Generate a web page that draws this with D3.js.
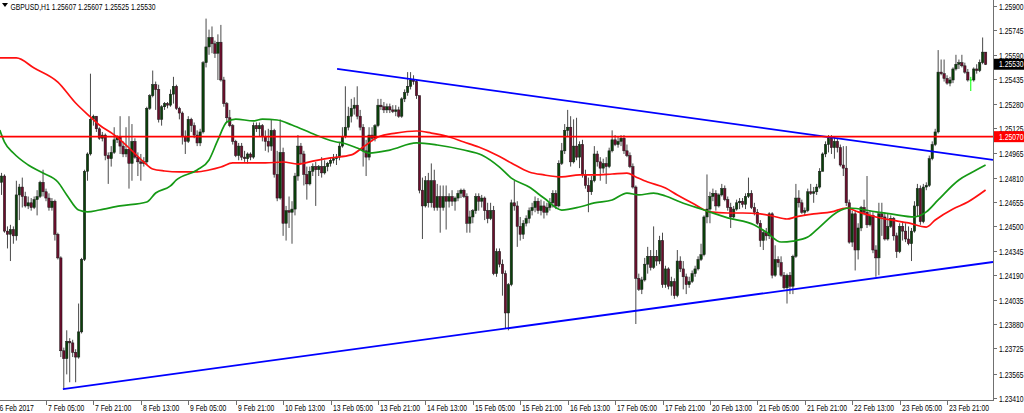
<!DOCTYPE html>
<html><head><meta charset="utf-8">
<script src="https://cdn.jsdelivr.net/npm/d3@7"></script>
<style>html,body{margin:0;padding:0;background:#fff;overflow:hidden}svg{display:block}</style>
</head><body>
<svg id="c" width="1024" height="413"></svg>
<script>
// ---------- DATA ----------
const symbolTitle = "GBPUSD,H1  1.25607 1.25607 1.25525 1.25530";

const opens = [
1.2478,1.2482,1.2447,1.2445,1.2448,1.2444,1.2470,1.2475,1.2469,1.2463,
1.2465,1.2462,1.2467,1.2469,1.2478,1.2472,1.2468,1.2462,1.2466,1.2445,
1.2430,1.2371,1.2366,1.2377,1.2376,1.2370,1.2367,1.2383,1.2429,1.2485,
1.2496,1.2518,1.2520,1.2512,1.2506,1.2508,1.2495,1.2493,1.2497,1.2505,
1.2507,1.2501,1.2496,1.2499,1.2490,1.2504,1.2494,1.2491,1.2490,1.2491,
1.2525,1.2533,1.2540,1.2537,1.2518,1.2526,1.2528,1.2527,1.2534,1.2539,
1.2525,1.2522,1.2507,1.2504,1.2518,1.2514,1.2508,1.2503,1.2510,1.2554,
1.2564,1.2570,1.2566,1.2560,1.2567,1.2543,1.2528,1.2519,1.2514,1.2504,
1.2495,1.2501,1.2494,1.2493,1.2496,1.2494,1.2514,1.2512,1.2514,1.2507,
1.2504,1.2501,1.2511,1.2483,1.2468,1.2497,1.2452,1.2460,1.2459,1.2461,
1.2482,1.2501,1.2496,1.2483,1.2477,1.2485,1.2488,1.2486,1.2488,1.2484,
1.2488,1.2490,1.2492,1.2493,1.2494,1.2501,1.2507,1.2513,1.2520,1.2525,
1.2527,1.2520,1.2513,1.2498,1.2494,1.2508,1.2506,1.2514,1.2527,1.2526,
1.2524,1.2526,1.2524,1.2523,1.2524,1.2520,1.2531,1.2535,1.2539,1.2543,
1.2542,1.2533,1.2473,1.2463,1.2479,1.2465,1.2479,1.2462,1.2469,1.2462,
1.2469,1.2466,1.2469,1.2466,1.2468,1.2471,1.2473,1.2469,1.2452,1.2456,
1.2460,1.2469,1.2466,1.2468,1.2460,1.2455,1.2460,1.2420,1.2434,1.2426,
1.2420,1.2395,1.2413,1.2465,1.2463,1.2450,1.2445,1.2452,1.2455,1.2460,
1.2462,1.2466,1.2460,1.2463,1.2459,1.2462,1.2465,1.2471,1.2463,1.2490,
1.2498,1.2511,1.2513,1.2491,1.2501,1.2494,1.2502,1.2483,1.2476,1.2472,
1.2479,1.2496,1.2491,1.2487,1.2490,1.2488,1.2498,1.2505,1.2502,1.2504,
1.2506,1.2498,1.2495,1.2488,1.2475,1.2417,1.2410,1.2416,1.2426,1.2431,
1.2424,1.2431,1.2428,1.2441,1.2413,1.2423,1.2412,1.2415,1.2406,1.2428,
1.2423,1.2418,1.2413,1.2415,1.2420,1.2423,1.2429,1.2432,1.2456,1.2461,
1.2469,1.2471,1.2463,1.2470,1.2474,1.2467,1.2462,1.2456,1.2461,1.2465,
1.2466,1.2464,1.2469,1.2471,1.2462,1.2459,1.2452,1.2441,1.2446,1.2444,
1.2458,1.2419,1.2429,1.2427,1.2419,1.2411,1.2419,1.2412,1.2431,1.2468,
1.2465,1.2459,1.2460,1.2472,1.2471,1.2472,1.2475,1.2485,1.2496,1.2502,
1.2506,1.2500,1.2504,1.2500,1.2489,1.2487,1.2465,1.2440,1.2458,1.2435,
1.2449,1.2462,1.2459,1.2451,1.2457,1.2435,1.2430,1.2458,1.2456,1.2442,
1.2450,1.2455,1.2444,1.2434,1.2450,1.2447,1.2442,1.2439,1.2447,1.2463,
1.2474,1.2453,1.2475,1.2476,1.2493,1.2502,1.2510,1.2548,1.2547,1.2544,
1.2541,1.2543,1.2550,1.2553,1.2554,1.2552,1.2548,1.2543,1.2543,1.2550,
1.2549,1.2554,1.25607];

const highs = [
1.2484,1.2483,1.2450,1.2451,1.2450,1.2479,1.2477,1.2481,1.2472,1.2469,
1.2468,1.2469,1.2473,1.2479,1.2486,1.2474,1.2471,1.2468,1.2467,1.2446,
1.2431,1.2373,1.2384,1.2379,1.2378,1.2372,1.2401,1.2430,1.2486,1.2497,
1.2547,1.2521,1.2520,1.2513,1.2510,1.2509,1.2497,1.2501,1.2513,1.2508,
1.2520,1.2504,1.2513,1.2520,1.2515,1.2506,1.2497,1.2496,1.2494,1.2526,
1.2534,1.2549,1.2542,1.2540,1.2527,1.2529,1.2529,1.2537,1.2545,1.2540,
1.2526,1.2523,1.2511,1.2520,1.2519,1.2516,1.2511,1.2512,1.2555,1.2582,
1.2575,1.2577,1.2568,1.2572,1.2578,1.2545,1.2529,1.2524,1.2515,1.2505,
1.2503,1.2503,1.2498,1.2497,1.2497,1.2516,1.2516,1.2516,1.2515,1.2511,
1.2512,1.2518,1.2512,1.2498,1.2518,1.2500,1.2463,1.2469,1.2466,1.2484,
1.2508,1.2503,1.2498,1.2488,1.2488,1.2490,1.2491,1.2489,1.2494,1.2492,
1.2491,1.2494,1.2496,1.2496,1.2503,1.2513,1.2539,1.2526,1.2531,1.2532,
1.2539,1.2524,1.2515,1.2505,1.2513,1.2513,1.2515,1.2531,1.2531,1.2529,
1.2528,1.2528,1.2527,1.2527,1.2526,1.2532,1.2537,1.2548,1.2548,1.2546,
1.2543,1.2533,1.2481,1.2482,1.2484,1.2490,1.2486,1.2477,1.2476,1.2476,
1.2476,1.2471,1.2473,1.2469,1.2473,1.2474,1.2474,1.2471,1.2460,1.2461,
1.2471,1.2471,1.2470,1.2469,1.2465,1.2465,1.2463,1.2436,1.2436,1.2429,
1.2422,1.2414,1.2467,1.2479,1.2466,1.2456,1.2454,1.2457,1.2462,1.2465,
1.2469,1.2468,1.2467,1.2466,1.2465,1.2468,1.2473,1.2473,1.2492,1.2503,
1.2515,1.2524,1.2520,1.2518,1.2519,1.2504,1.2505,1.2486,1.2481,1.2482,
1.2501,1.2498,1.2494,1.2493,1.2494,1.2500,1.2511,1.2508,1.2507,1.2508,
1.2508,1.2502,1.2497,1.2490,1.2476,1.2420,1.2418,1.2430,1.2437,1.2435,
1.2450,1.2435,1.2444,1.2446,1.2425,1.2424,1.2418,1.2417,1.2435,1.2431,
1.2428,1.2420,1.2418,1.2422,1.2425,1.2431,1.2439,1.2457,1.2483,1.2472,
1.2474,1.2473,1.2471,1.2477,1.2476,1.2469,1.2465,1.2463,1.2467,1.2468,
1.2468,1.2471,1.2481,1.2473,1.2465,1.2461,1.2454,1.2448,1.2449,1.2459,
1.2459,1.2438,1.2431,1.2431,1.2421,1.2420,1.2421,1.2432,1.2477,1.2473,
1.2467,1.2462,1.2474,1.2477,1.2475,1.2477,1.2487,1.2497,1.2504,1.2508,
1.2508,1.2507,1.2506,1.2502,1.2501,1.2501,1.2467,1.2460,1.2460,1.2452,
1.2463,1.2467,1.2482,1.2460,1.2459,1.2438,1.2465,1.2465,1.2459,1.2458,
1.2457,1.2456,1.2446,1.2452,1.2453,1.2452,1.2450,1.2449,1.2466,1.2477,
1.2476,1.2477,1.2478,1.2495,1.2504,1.2512,1.2562,1.2556,1.2556,1.2546,
1.2545,1.2551,1.2559,1.2556,1.2559,1.2554,1.2550,1.2545,1.2551,1.2553,
1.2556,1.2570,1.25607];

const lows = [
1.2470,1.2446,1.2436,1.2428,1.2439,1.2441,1.2454,1.2462,1.2462,1.2461,
1.2460,1.2461,1.2457,1.2468,1.2469,1.2466,1.2460,1.2460,1.2441,1.2429,
1.2367,1.2347,1.2356,1.2351,1.2367,1.2351,1.2366,1.2382,1.2428,1.2479,
1.2495,1.2514,1.2510,1.2505,1.2504,1.2492,1.2477,1.2488,1.2496,1.2503,
1.2496,1.2494,1.2494,1.2474,1.2479,1.2493,1.2482,1.2479,1.2488,1.2489,
1.2524,1.2532,1.2524,1.2516,1.2514,1.2524,1.2525,1.2526,1.2528,1.2524,
1.2518,1.2502,1.2496,1.2503,1.2510,1.2506,1.2501,1.2501,1.2509,1.2551,
1.2559,1.2560,1.2557,1.2543,1.2542,1.2526,1.2516,1.2513,1.2502,1.2494,
1.2492,1.2492,1.2491,1.2490,1.2492,1.2493,1.2510,1.2507,1.2504,1.2498,
1.2497,1.2498,1.2481,1.2466,1.2467,1.2444,1.2441,1.2449,1.2439,1.2457,
1.2479,1.2490,1.2476,1.2467,1.2476,1.2482,1.2463,1.2482,1.2481,1.2483,
1.2485,1.2488,1.2490,1.2489,1.2492,1.2500,1.2506,1.2511,1.2516,1.2521,
1.2518,1.2511,1.2488,1.2482,1.2492,1.2504,1.2504,1.2513,1.2524,1.2522,
1.2522,1.2522,1.2522,1.2520,1.2519,1.2519,1.2529,1.2533,1.2537,1.2540,
1.2531,1.2471,1.2442,1.2462,1.2462,1.2462,1.2460,1.2460,1.2446,1.2460,
1.2448,1.2462,1.2463,1.2460,1.2466,1.2468,1.2468,1.2446,1.2446,1.2452,
1.2458,1.2460,1.2462,1.2454,1.2452,1.2454,1.2419,1.2418,1.2424,1.2406,
1.2385,1.2384,1.2412,1.2460,1.2437,1.2441,1.2442,1.2450,1.2452,1.2457,
1.2459,1.2458,1.2457,1.2455,1.2457,1.2460,1.2462,1.2461,1.2462,1.2489,
1.2496,1.2507,1.2488,1.2490,1.2492,1.2487,1.2481,1.2474,1.2459,1.2470,
1.2478,1.2488,1.2479,1.2484,1.2477,1.2487,1.2497,1.2501,1.2500,1.2501,
1.2496,1.2494,1.2487,1.2474,1.2388,1.2409,1.2407,1.2415,1.2420,1.2422,
1.2423,1.2425,1.2426,1.2411,1.2411,1.2410,1.2406,1.2404,1.2405,1.2421,
1.2410,1.2407,1.2411,1.2414,1.2418,1.2422,1.2428,1.2431,1.2452,1.2452,
1.2466,1.2460,1.2462,1.2469,1.2466,1.2460,1.2449,1.2455,1.2460,1.2461,
1.2462,1.2461,1.2468,1.2461,1.2457,1.2451,1.2437,1.2435,1.2441,1.2442,
1.2417,1.2418,1.2424,1.2418,1.2410,1.2401,1.2407,1.2407,1.2430,1.2462,
1.2458,1.2457,1.2459,1.2470,1.2465,1.2470,1.2474,1.2485,1.2494,1.2497,
1.2496,1.2493,1.2497,1.2488,1.2482,1.2463,1.2439,1.2437,1.2422,1.2429,
1.2447,1.2457,1.2449,1.2450,1.2433,1.2418,1.2419,1.2444,1.2441,1.2441,
1.2449,1.2441,1.2430,1.2433,1.2441,1.2440,1.2438,1.2428,1.2446,1.2456,
1.2451,1.2452,1.2473,1.2475,1.2492,1.2501,1.2509,1.2546,1.2542,1.2540,
1.2539,1.2541,1.2549,1.2550,1.2551,1.2547,1.2542,1.2536,1.2542,1.2547,
1.2548,1.2553,1.25525];

const closes = [
1.2482,1.2447,1.2445,1.2448,1.2444,1.2470,1.2475,1.2469,1.2463,1.2465,
1.2462,1.2467,1.2469,1.2478,1.2472,1.2468,1.2462,1.2466,1.2445,1.2430,
1.2371,1.2366,1.2377,1.2376,1.2370,1.2367,1.2383,1.2429,1.2485,1.2496,
1.2518,1.2520,1.2512,1.2506,1.2508,1.2495,1.2493,1.2497,1.2505,1.2507,
1.2501,1.2496,1.2499,1.2490,1.2504,1.2494,1.2491,1.2490,1.2491,1.2525,
1.2533,1.2540,1.2537,1.2518,1.2526,1.2528,1.2527,1.2534,1.2539,1.2525,
1.2522,1.2507,1.2504,1.2518,1.2514,1.2508,1.2503,1.2510,1.2554,1.2564,
1.2570,1.2566,1.2560,1.2567,1.2543,1.2528,1.2519,1.2514,1.2504,1.2495,
1.2501,1.2494,1.2493,1.2496,1.2494,1.2514,1.2512,1.2514,1.2507,1.2504,
1.2501,1.2511,1.2483,1.2468,1.2497,1.2452,1.2460,1.2459,1.2461,1.2482,
1.2501,1.2496,1.2483,1.2477,1.2485,1.2488,1.2486,1.2488,1.2484,1.2488,
1.2490,1.2492,1.2493,1.2494,1.2501,1.2507,1.2513,1.2520,1.2525,1.2527,
1.2520,1.2513,1.2498,1.2494,1.2508,1.2506,1.2514,1.2527,1.2526,1.2524,
1.2526,1.2524,1.2523,1.2524,1.2520,1.2531,1.2535,1.2539,1.2543,1.2542,
1.2533,1.2473,1.2463,1.2479,1.2465,1.2479,1.2462,1.2469,1.2462,1.2469,
1.2466,1.2469,1.2466,1.2468,1.2471,1.2473,1.2469,1.2452,1.2456,1.2460,
1.2469,1.2466,1.2468,1.2460,1.2455,1.2460,1.2420,1.2434,1.2426,1.2420,
1.2395,1.2413,1.2465,1.2463,1.2450,1.2445,1.2452,1.2455,1.2460,1.2462,
1.2466,1.2460,1.2463,1.2459,1.2462,1.2465,1.2471,1.2463,1.2490,1.2498,
1.2511,1.2513,1.2491,1.2501,1.2494,1.2502,1.2483,1.2476,1.2472,1.2479,
1.2496,1.2491,1.2487,1.2490,1.2488,1.2498,1.2505,1.2502,1.2504,1.2506,
1.2498,1.2495,1.2488,1.2475,1.2417,1.2410,1.2416,1.2426,1.2431,1.2424,
1.2431,1.2428,1.2441,1.2413,1.2423,1.2412,1.2415,1.2406,1.2428,1.2423,
1.2418,1.2413,1.2415,1.2420,1.2423,1.2429,1.2432,1.2456,1.2461,1.2469,
1.2471,1.2463,1.2470,1.2474,1.2467,1.2462,1.2456,1.2461,1.2465,1.2466,
1.2464,1.2469,1.2471,1.2462,1.2459,1.2452,1.2441,1.2446,1.2444,1.2458,
1.2419,1.2429,1.2427,1.2419,1.2411,1.2419,1.2412,1.2431,1.2468,1.2465,
1.2459,1.2460,1.2472,1.2471,1.2472,1.2475,1.2485,1.2496,1.2502,1.2506,
1.2500,1.2504,1.2500,1.2489,1.2487,1.2465,1.2440,1.2458,1.2435,1.2449,
1.2462,1.2459,1.2451,1.2457,1.2435,1.2430,1.2458,1.2456,1.2442,1.2450,
1.2455,1.2444,1.2434,1.2450,1.2447,1.2442,1.2439,1.2447,1.2463,1.2474,
1.2453,1.2475,1.2476,1.2493,1.2502,1.2510,1.2548,1.2547,1.2544,1.2541,
1.2543,1.2550,1.2553,1.2554,1.2552,1.2548,1.2543,1.2543,1.2550,1.2549,
1.2554,1.25607,1.25530];

// moving average readings (bar index, price)
const redMaIdx = [-0.6,5,11,19,25,30,33,38,42,48,51,55,60,66,70,74,78,83,89,95,100,105,111,118,122,127,133,140,145,150,156,161,167,172,178,183,189,195,200,206,211,214,218,224,228,233,239,245,250,256,260,265,268,274,280,285,289,295,300,306,312,315,321,326,332];
const redMaVal = [1.2557,1.2557,1.25506,1.25417,1.25284,1.25195,1.25144,1.25081,1.25017,1.24909,1.24865,1.24852,1.24846,1.24846,1.24858,1.24877,1.24903,1.24903,1.24903,1.24909,1.24896,1.24915,1.24935,1.24954,1.25004,1.25068,1.25093,1.25106,1.25093,1.25074,1.25036,1.25004,1.24954,1.24903,1.24846,1.24827,1.24814,1.24827,1.24827,1.24833,1.24839,1.24814,1.24782,1.24744,1.24700,1.24649,1.24592,1.24585,1.24585,1.24579,1.24566,1.24547,1.24560,1.24579,1.24592,1.24617,1.24592,1.24560,1.24541,1.24522,1.24496,1.24541,1.24611,1.24655,1.24731];
const greenMaIdx = [-0.6,1,4,9,14,19,22,26,29,33,40,49,52,57,59,66,70,73,76,79,85,88,93,98,106,113,115,120,124,131,140,147,156,162,168,172,178,183,189,195,200,206,211,215,220,224,229,237,245,254,258,263,267,272,276,282,286,295,300,308,312,316,323,327,332];
const greenMaVal = [1.25112,1.25036,1.24966,1.24890,1.24839,1.24782,1.24700,1.24604,1.24592,1.24604,1.24630,1.24655,1.24712,1.24757,1.24795,1.24858,1.24922,1.25049,1.25163,1.25182,1.25170,1.25182,1.25176,1.25144,1.25081,1.25036,1.25030,1.24998,1.24966,1.24985,1.25030,1.25017,1.24985,1.24954,1.24877,1.24807,1.24750,1.24680,1.24604,1.24623,1.24649,1.24668,1.24712,1.24700,1.24712,1.24693,1.24655,1.24604,1.24554,1.24509,1.24464,1.24401,1.24407,1.24432,1.24496,1.24592,1.24617,1.24592,1.24579,1.24560,1.24592,1.24668,1.24795,1.24839,1.24890];

// trend lines (bar index, price) and horizontal level
const upperTrendIdx = [113.2, 334.5];
const upperTrendVal = [1.25500, 1.24922];
const lowerTrendIdx = [20.7, 334.5];
const lowerTrendVal = [1.23467, 1.24274];
const levelPrice = 1.25070;
const lastPrice = 1.25530;

const priceTicks = [1.25900,1.25745,1.25590,1.25435,1.25280,1.25125,1.24965,1.24810,1.24655,1.24500,1.24345,1.24190,1.24035,1.23880,1.23725,1.23565,1.23410];
const timeTickIdx = [15,31,47,63,79,95,111,127,143,159,175,191,207,223,239,255,271,287,303,319];
const timeTickLabels = ["7 Feb 05:00","7 Feb 21:00","8 Feb 13:00","9 Feb 05:00","9 Feb 21:00","10 Feb 13:00","13 Feb 05:00","13 Feb 21:00","14 Feb 13:00","15 Feb 05:00","15 Feb 21:00","16 Feb 13:00","17 Feb 05:00","17 Feb 21:00","20 Feb 13:00","21 Feb 05:00","21 Feb 21:00","22 Feb 13:00","23 Feb 05:00","23 Feb 21:00"];
const firstDateLabel = "6 Feb 2017";
const firstDateIdx = -1.2;

// ---------- DRAW ----------
const W = 993, H = 400;
const svg = d3.select("#c");
const x = d3.scaleLinear().domain([-0.52, 334.5]).range([0, W]);
const y = d3.scaleLinear().domain([1.23410, 1.25900]).range([398, 6]);

svg.append("defs").append("clipPath").attr("id","clip")
  .append("rect").attr("x",0).attr("y",0).attr("width",W).attr("height",H);
const plot = svg.append("g").attr("clip-path","url(#clip)");

const FONT = "'Liberation Sans', Arial, sans-serif";
function label(g, tx, ty, str, fill) {
  return g.append("text")
    .attr("transform", `translate(${tx},${ty}) scale(0.8,1)`)
    .attr("font-family", FONT).attr("font-size", "8.5px")
    .attr("fill", fill || "#000").text(str);
}

const bars = d3.range(closes.length).map(i => ({i, o: opens[i], h: highs[i], l: lows[i], c: closes[i]}));

// wicks
plot.append("g").selectAll("line").data(bars).join("line")
  .attr("x1", d => x(d.i)).attr("x2", d => x(d.i))
  .attr("y1", d => y(d.h)).attr("y2", d => y(d.l))
  .attr("stroke", d => d.o === d.c ? "#00ff00" : "#4a4a4a").attr("stroke-width", 1);

// bodies
plot.append("g").selectAll("rect").data(bars.filter(d => d.o !== d.c)).join("rect")
  .attr("x", d => x(d.i) - 1.2).attr("width", 2.4)
  .attr("y", d => y(Math.max(d.o, d.c)))
  .attr("height", d => Math.max(1, Math.abs(y(d.o) - y(d.c))))
  .attr("fill", d => d.c > d.o ? "#0a400a" : "#6a0e2c")
  .attr("stroke", "#1a1a1a").attr("stroke-width", 0.5);
// doji
plot.append("g").selectAll("line").data(bars.filter(d => d.o === d.c)).join("line")
  .attr("x1", d => x(d.i) - 1.2).attr("x2", d => x(d.i) + 1.2)
  .attr("y1", d => y(d.o)).attr("y2", d => y(d.o))
  .attr("stroke", "#00ff00").attr("stroke-width", 1);

// moving averages
const maLine = d3.line().x(d => x(d[0])).y(d => y(d[1])).curve(d3.curveMonotoneX);
plot.append("path").attr("d", maLine(redMaIdx.map((v,k) => [v, redMaVal[k]])))
  .attr("fill","none").attr("stroke","#ff1010").attr("stroke-width",1.7);
plot.append("path").attr("d", maLine(greenMaIdx.map((v,k) => [v, greenMaVal[k]])))
  .attr("fill","none").attr("stroke","#159915").attr("stroke-width",1.7);

// trend lines
const tl = d3.line().x(d => x(d[0])).y(d => y(d[1]));
plot.append("path").attr("d", tl(upperTrendIdx.map((v,k) => [v, upperTrendVal[k]])))
  .attr("fill","none").attr("stroke","#0000ff").attr("stroke-width",1.8);
plot.append("path").attr("d", tl(lowerTrendIdx.map((v,k) => [v, lowerTrendVal[k]])))
  .attr("fill","none").attr("stroke","#0000ff").attr("stroke-width",1.8);

// horizontal level
plot.append("line").attr("x1",0).attr("x2",W).attr("y1",y(levelPrice)).attr("y2",y(levelPrice))
  .attr("stroke","#ff0000").attr("stroke-width",1.6);

// axes frame
const axisG = svg.append("g");
axisG.append("line").attr("x1",W+0.5).attr("x2",W+0.5).attr("y1",0).attr("y2",H+1)
  .attr("stroke","#707070").attr("stroke-width",1);
axisG.append("line").attr("x1",0).attr("x2",W+1).attr("y1",H+0.5).attr("y2",H+0.5)
  .attr("stroke","#707070").attr("stroke-width",1);

// price axis
priceTicks.forEach(p => {
  const py = Math.round(y(p)) + 0.5;
  axisG.append("line").attr("x1",W+1).attr("x2",W+4).attr("y1",py).attr("y2",py)
    .attr("stroke","#707070");
  label(axisG, W + 6, py + 3, p.toFixed(5), "#000");
});

// price boxes
function priceBox(p, bg) {
  const py = y(p);
  axisG.append("rect").attr("x", W + 1).attr("y", py - 5.5).attr("width", 1024 - W - 1).attr("height", 11)
    .attr("fill", bg);
  label(axisG, W + 6, py + 3, p.toFixed(5), "#fff");
}
priceBox(lastPrice, "#000");
priceBox(levelPrice, "#ff0000");

// time axis
timeTickIdx.forEach((t, k) => {
  const tx = Math.round(x(t)) + 0.5;
  axisG.append("line").attr("x1",tx).attr("x2",tx).attr("y1",H+1).attr("y2",H+5).attr("stroke","#707070");
  label(axisG, tx + 1.5, 411, timeTickLabels[k], "#000");
});
label(axisG, x(firstDateIdx) + 1.5, 411, firstDateLabel, "#000");

// title
svg.append("path").attr("d","M2,3 L8,3 L5,7 Z").attr("fill","#000");
label(svg, 10.5, 9.5, symbolTitle, "#000");
</script>
</body></html>
